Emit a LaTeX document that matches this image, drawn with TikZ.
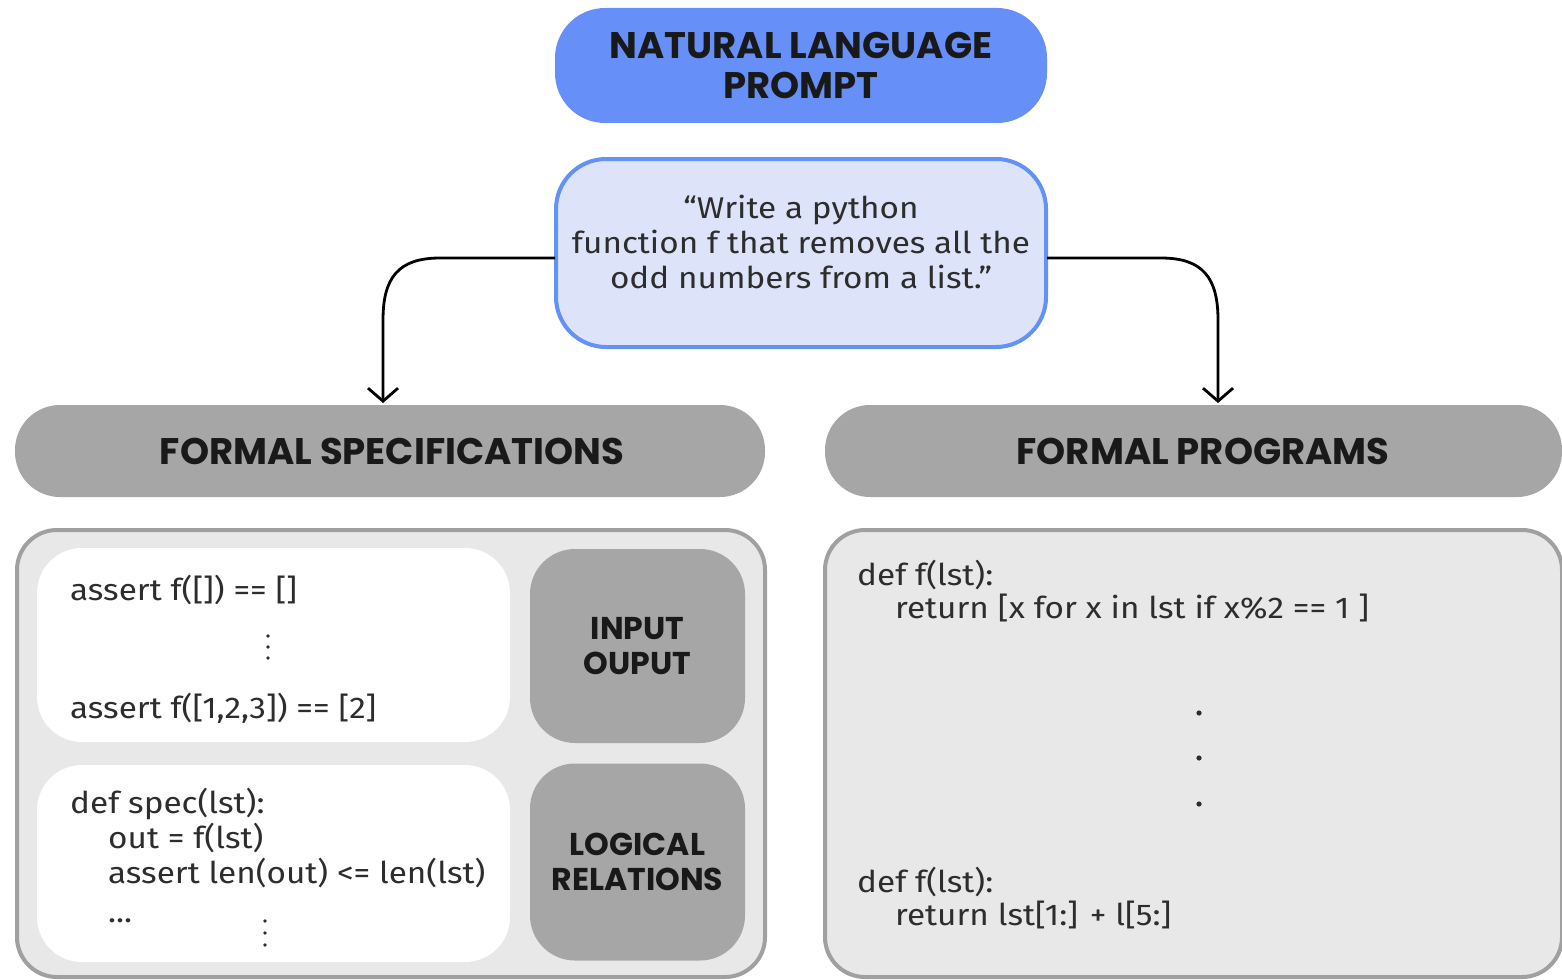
\documentclass[tikz,border=0pt]{standalone}
\usepackage{fontspec}
\setmainfont{Fira Sans}[FakeStretch=1.11]
\newfontfamily\hdrfont{Poppins}
\usetikzlibrary{arrows.meta}
\definecolor{blueA}{RGB}{102,144,248}
\definecolor{blueB}{RGB}{100,145,245}
\definecolor{lav}{RGB}{221,228,250}
\definecolor{barg}{RGB}{166,166,166}
\definecolor{panelg}{RGB}{232,232,232}
\definecolor{paneld}{RGB}{160,160,160}
\definecolor{ink}{RGB}{25,25,25}
\definecolor{codeink}{RGB}{45,45,45}
\tikzset{
  hdr/.style={font=\hdrfont\fontsize{37}{40}\selectfont\bfseries, text=ink, align=center, inner sep=0pt},
  nlbox/.style={hdr, fill=blueA, rounded corners=50pt, minimum width=492pt, minimum height=115pt},
  promptbox/.style={fill=lav, draw=blueB, line width=4pt, rounded corners=50pt, minimum width=490pt, minimum height=188pt},
  prompttext/.style={align=center, font=\fontsize{30}{35}\selectfont, text=codeink, inner sep=0pt},
  bar/.style={fill=barg, rounded corners=45pt, minimum height=92pt},
  bartext/.style={hdr},
  panel/.style={fill=panelg, draw=paneld, line width=4pt, rounded corners=40pt},
  whitebox/.style={fill=white, rounded corners=45pt, minimum width=473pt},
  graybox/.style={hdr, fill=barg, rounded corners=45pt, minimum width=215pt, font=\hdrfont\fontsize{31.5}{35}\selectfont\bfseries},
  code/.style={anchor=west, inner sep=0pt, text height=21pt, text depth=7pt, font=\fontsize{30}{35}\selectfont, text=codeink},
  arr/.style={line width=2.8pt, -{Straight Barb[length=13pt,width=30pt]}},
  dotsm/.style={fill=codeink},
}
\begin{document}
\begin{tikzpicture}[x=1pt,y=-1pt]
\useasboundingbox (0,0) rectangle (1562,979);
\fill[white] (0,0) rectangle (1562,979);
\begin{scope}
\clip (0,0) rectangle (1562,979);
% top
\node[nlbox] (nl) at (801,65.5) {NATURAL LANGUAGE\\PROMPT};
\node[promptbox] (p) at (801,253) {};
\node[prompttext] (pt) at (801,242) {“Write a python\\function f that removes all the\\odd numbers from a list.”};
% bars
\node[bar, minimum width=750pt] (fs) at (390,451) {};
\node[bartext] (fst) at (392,451) {FORMAL SPECIFICATIONS};
\node[bar, minimum width=737pt] (fp) at (1193.5,451) {};
\node[bartext] (fpt) at (1203,451) {FORMAL PROGRAMS};
% arrows
\coordinate (ls) at (555,258);
\coordinate (rs) at (1047,258);
\coordinate (la) at (383,403);
\coordinate (ra) at (1218,403);
\draw[arr] (ls) -- (440,258) .. controls (398,258) and (383,278) .. (383,320) -- (la);
\draw[arr] (rs) -- (1161,258) .. controls (1203,258) and (1218,278) .. (1218,320) -- (ra);
% panels
\node[panel, minimum width=748pt, minimum height=447pt] (lp) at (391,753.5) {};
\node[panel, minimum width=737pt, minimum height=447pt] (rp) at (1193.5,753.5) {};
\node[whitebox, minimum height=194pt] (w1) at (273.5,645) {};
\node[whitebox, minimum height=197pt] (w2) at (273.5,863.5) {};
\node[graybox, minimum height=194pt] (g1) at (637.5,646) {INPUT\\OUPUT};
\node[graybox, minimum height=197pt] (g2) at (637.5,862) {LOGICAL\\RELATIONS};
% left code
\node[code] (c1) at (70,593) {assert f([]) == []};
\node[code] (c2) at (70,711) {assert f([1,2,3]) == [2]};
\node[code] (c3) at (70,806) {def spec(lst):};
\node[code] (c4) at (108,841) {out = f(lst)};
\node[code] (c5) at (108,876) {assert len(out) <= len(lst)};
\node[code] (c6) at (108,915) {...};
\foreach \yy in {636,647,658} \fill[dotsm] (268,\yy) circle (1.8pt);
\foreach \yy in {921,933,945} \fill[dotsm] (265,\yy) circle (1.8pt);
% right code
\node[code] (r1) at (857,578) {def f(lst):};
\node[code] (r2) at (895,611) {return [x for x in lst if x\%2 == 1 ]};
\node[code] (r3) at (857,885) {def f(lst):};
\node[code] (r4) at (895,918) {return lst[1:] + l[5:]};
\foreach \yy in {713,758,804} \fill[dotsm] (1199,\yy) circle (2.6pt);
\end{scope}
\end{tikzpicture}
\end{document}
